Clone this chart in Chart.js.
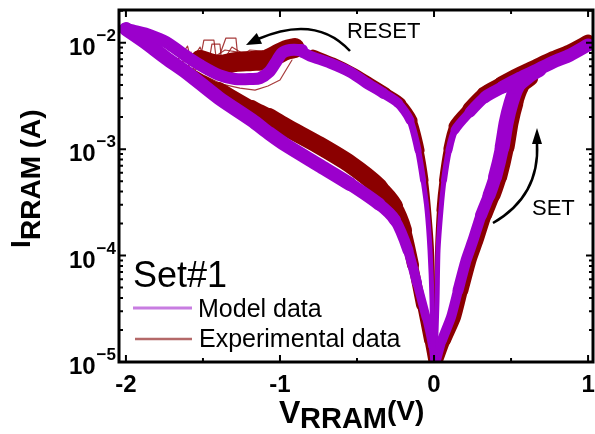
<!DOCTYPE html>
<html>
<head>
<meta charset="utf-8">
<script src="https://cdn.jsdelivr.net/npm/chart.js@4.4.1/dist/chart.umd.min.js"></script>
<style>
  html, body { margin: 0; padding: 0; background: #fff; }
  #wrap { width: 595px; height: 434px; }
</style>
</head>
<body>
<div id="wrap"><canvas id="iv" width="595" height="434"></canvas></div>
<script>
// values, each point is [V (volts), I (amps)]
const modelNegLrs = [[-0.0065, 1.0e-5], [-0.013, 3.8e-5], [-0.026, 1.12e-4], [-0.045, 2.67e-4], [-0.071, 5.11e-4], [-0.104, 9.78e-4], [-0.156, 1.87e-3], [-0.234, 2.71e-3], [-0.331, 3.36e-3], [-0.448, 4.27e-3], [-0.545, 5.30e-3], [-0.675, 6.44e-3], [-0.805, 7.50e-3], [-0.857, 8.17e-3]];
const modelReset = [[-0.857, 8.54e-3], [-0.935, 8.54e-3], [-0.987, 7.99e-3], [-1.026, 6.58e-3], [-1.071, 5.30e-3], [-1.130, 4.65e-3], [-1.182, 4.56e-3], [-1.292, 4.56e-3], [-1.396, 4.97e-3], [-1.519, 6.17e-3], [-1.610, 7.50e-3], [-1.740, 1.015e-2], [-1.844, 1.181e-2], [-1.942, 1.288e-2], [-2.0, 1.345e-2]];
const modelNegHrs = [[-2.0, 1.345e-2], [-1.877, 1.015e-2], [-1.740, 7.18e-3], [-1.610, 5.30e-3], [-1.396, 3.02e-3], [-1.182, 1.87e-3], [-1.071, 1.41e-3], [-0.961, 1.09e-3], [-0.747, 7.07e-4], [-0.545, 4.69e-4], [-0.357, 3.04e-4], [-0.253, 2.15e-4], [-0.169, 1.12e-4], [-0.110, 5.49e-5], [-0.052, 2.63e-5], [-0.013, 1.43e-5], [0.0, 1.0e-5]];
const modelPosLrs = [[0.0065, 1.0e-5], [0.0195, 3.8e-5], [0.026, 1.12e-4], [0.045, 2.67e-4], [0.065, 5.11e-4], [0.097, 9.78e-4], [0.136, 1.51e-3], [0.234, 2.23e-3], [0.331, 3.08e-3], [0.448, 3.83e-3], [0.558, 4.65e-3], [0.669, 5.53e-3], [0.773, 6.58e-3], [0.883, 7.66e-3], [1.0, 9.51e-3]];
const modelSet = [[0.013, 1.0e-5], [0.052, 1.60e-5], [0.110, 2.63e-5], [0.156, 4.72e-5], [0.208, 9.03e-5], [0.253, 1.39e-4], [0.305, 2.39e-4], [0.357, 3.69e-4], [0.396, 5.45e-4], [0.442, 1.04e-3], [0.468, 1.76e-3], [0.500, 2.71e-3], [0.539, 3.83e-3], [0.610, 4.76e-3], [0.688, 5.53e-3]];

const expNegHrs = [[-1.779, 8.54e-3], [-1.610, 5.53e-3], [-1.396, 3.67e-3], [-1.182, 2.43e-3], [-1.071, 2.0e-3], [-0.961, 1.61e-3], [-0.747, 1.09e-3], [-0.545, 7.23e-4], [-0.357, 4.39e-4], [-0.253, 2.91e-4], [-0.188, 1.73e-4], [-0.136, 8.1e-5], [-0.084, 3.41e-5], [-0.039, 1.60e-5], [-0.013, 1.0e-5]];
const expNegLrs = [[0.0, 1.0e-5], [-0.0065, 3.8e-5], [-0.013, 1.12e-4], [-0.032, 2.67e-4], [-0.052, 5.11e-4], [-0.084, 9.78e-4], [-0.136, 1.87e-3], [-0.214, 2.71e-3], [-0.312, 3.36e-3], [-0.429, 4.27e-3], [-0.526, 5.19e-3], [-0.656, 6.44e-3], [-0.786, 7.66e-3]];
const expReset = [[-1.519, 6.88e-3], [-1.396, 6.17e-3], [-1.292, 6.58e-3], [-1.182, 6.73e-3], [-1.097, 6.88e-3], [-1.026, 7.66e-3], [-0.961, 8.54e-3], [-0.903, 8.91e-3]];
const expResetNoiseA = [[-1.714, 7.34e-3], [-1.636, 6.58e-3], [-1.578, 8.17e-3], [-1.558, 5.30e-3], [-1.519, 6.88e-3], [-1.494, 1.060e-2], [-1.429, 1.060e-2], [-1.416, 7.50e-3], [-1.357, 8.54e-3], [-1.273, 8.17e-3], [-1.130, 8.0e-3], [-0.968, 8.54e-3]];
const expResetNoiseB = [[-1.682, 6.88e-3], [-1.597, 6.04e-3], [-1.519, 9.11e-3], [-1.468, 5.78e-3], [-1.442, 9.72e-3], [-1.390, 9.72e-3], [-1.377, 6.44e-3], [-1.312, 9.11e-3], [-1.227, 7.66e-3], [-1.065, 7.50e-3], [-0.922, 8.54e-3]];
const expResetNoiseC = [[-1.649, 6.44e-3], [-1.545, 7.18e-3], [-1.481, 5.07e-3], [-1.403, 6.88e-3], [-1.351, 1.107e-2], [-1.286, 1.107e-2], [-1.273, 7.18e-3], [-1.195, 8.54e-3], [-1.032, 8.17e-3]];
const expResetNoiseD = [[-1.487, 4.86e-3], [-1.377, 4.09e-3], [-1.260, 3.75e-3], [-1.162, 3.59e-3], [-1.078, 3.92e-3], [-1.0, 4.46e-3], [-0.922, 6.88e-3]];
const expResetNoiseE = [[-1.617, 5.78e-3], [-1.532, 6.58e-3], [-1.455, 7.83e-3], [-1.364, 5.53e-3], [-1.325, 7.66e-3], [-1.208, 6.88e-3], [-1.117, 6.30e-3], [-1.0, 6.88e-3]];
const expResetNoiseF = [[-1.740, 8.0e-3], [-1.660, 7.0e-3], [-1.600, 9.3e-3], [-1.570, 6.2e-3], [-1.500, 8.3e-3], [-1.420, 6.0e-3], [-1.340, 6.9e-3], [-1.250, 5.9e-3], [-1.150, 5.6e-3], [-1.050, 5.9e-3], [-0.960, 7.6e-3]];
const expPosLrs = [[0.013, 1.0e-5], [0.013, 3.8e-5], [0.0195, 1.12e-4], [0.032, 2.67e-4], [0.052, 5.11e-4], [0.084, 1.02e-3], [0.123, 1.65e-3], [0.221, 2.43e-3], [0.318, 3.36e-3], [0.435, 4.18e-3], [0.545, 5.07e-3], [0.656, 6.04e-3], [0.766, 7.18e-3], [0.877, 8.35e-3], [1.0, 1.037e-2]];
const expSet = [[0.026, 1.0e-5], [0.078, 1.60e-5], [0.143, 2.63e-5], [0.188, 4.72e-5], [0.240, 9.03e-5], [0.286, 1.39e-4], [0.338, 2.39e-4], [0.390, 3.69e-4], [0.429, 5.45e-4], [0.474, 1.04e-3], [0.500, 1.76e-3], [0.532, 2.71e-3], [0.571, 3.83e-3], [0.636, 4.56e-3], [0.660, 5.30e-3]];

// axis ticks
const xMajorTicks = [-2, -1, 0, 1];
const xMinorTicks = [-1.5, -0.5, 0.5];
const yDecades = [-2, -3, -4, -5];

// styling: stroke width per segment (the bands thin out near 0 V)
const wModelNegLrs = [5, 5, 5, 5, 6, 7, 9, 10, 11, 11, 11, 11, 11];
const wModelNegHrs = [14, 14, 14, 14, 14, 14, 14, 14, 14, 13, 12, 11, 10, 9, 8, 7];
const wModelPosLrs = [5, 5, 5, 5, 6, 7, 9, 11, 12, 13, 13, 13, 13, 13];
const wModelSet = [9, 10, 10, 11, 11, 11, 12, 13, 14, 15, 15, 15, 14, 13];
const wExpNegHrs = [6, 10, 14, 16, 18, 18, 18, 18, 16, 14, 12, 10, 8, 7];
const wExpNegLrs = [4, 4, 4, 4, 5, 7, 9, 10, 11, 11, 11, 11];
const wExpPosLrs = [4, 4, 4, 5, 6, 7, 9, 11, 12, 13, 13, 13, 13, 13];
const wExpSet = [9, 10, 10, 11, 11, 11, 12, 13, 14, 15, 15, 14, 12, 10];

const FONT = '"Liberation Sans", Arial, Helvetica, sans-serif';
const PURPLE = '#9b00cc';
const DARKRED = '#8b0000';
const NOISE = 'rgba(150,25,25,0.85)';

const pts = arr => arr.map(p => ({ x: p[0], y: p[1] }));

function curve(data, color, width, order, tension) {
    const tapered = Array.isArray(width);
    const ds = {
        data: pts(data),
        borderColor: color,
        borderWidth: tapered ? width[0] : width,
        pointRadius: 0,
        fill: false,
        tension: tension,
        order: order,
        borderCapStyle: 'round',
        borderJoinStyle: 'round',
        clip: 0
    };
    if (tapered) {
        ds.segment = { borderWidth: c => width[c.p0DataIndex] };
    }
    return ds;
}

const datasets = [
    // model (drawn on top)
    curve(modelNegLrs, PURPLE, wModelNegLrs, 1, 0.25),
    curve(modelReset, PURPLE, 12, 1, 0.3),
    curve(modelNegHrs, PURPLE, wModelNegHrs, 1, 0.25),
    curve(modelPosLrs, PURPLE, wModelPosLrs, 1, 0.25),
    curve(modelSet, PURPLE, wModelSet, 1, 0.2),
    // experimental (underneath)
    curve(expNegHrs, DARKRED, wExpNegHrs, 2, 0.25),
    curve(expNegLrs, DARKRED, wExpNegLrs, 2, 0.25),
    curve(expReset, DARKRED, 20, 2, 0.3),
    curve(expResetNoiseA, NOISE, 1.2, 2, 0),
    curve(expResetNoiseB, NOISE, 1.2, 2, 0),
    curve(expResetNoiseC, NOISE, 1.2, 2, 0),
    curve(expResetNoiseD, NOISE, 1.2, 2, 0),
    curve(expResetNoiseE, NOISE, 1.2, 2, 0),
    curve(expResetNoiseF, NOISE, 1.2, 2, 0),
    curve(expPosLrs, DARKRED, wExpPosLrs, 2, 0.25),
    curve(expSet, DARKRED, wExpSet, 2, 0.2)
];

function arrowHead(ctx, tipX, tipY, fromX, fromY, len, half) {
    const ang = Math.atan2(tipY - fromY, tipX - fromX);
    ctx.beginPath();
    ctx.moveTo(tipX, tipY);
    ctx.lineTo(tipX - len * Math.cos(ang) + half * Math.sin(ang), tipY - len * Math.sin(ang) - half * Math.cos(ang));
    ctx.lineTo(tipX - len * Math.cos(ang) - half * Math.sin(ang), tipY - len * Math.sin(ang) + half * Math.cos(ang));
    ctx.closePath();
    ctx.fill();
}

const decor = {
    id: 'decor',
    afterDraw(chart) {
        const { ctx, chartArea: a, scales } = chart;
        const xs = scales.x, ys = scales.y;
        ctx.save();
        ctx.strokeStyle = '#000';
        ctx.fillStyle = '#000';

        // inward ticks on all four sides
        ctx.lineWidth = 2;
        ctx.beginPath();
        xMajorTicks.forEach(v => {
            const p = xs.getPixelForValue(v);
            ctx.moveTo(p, a.bottom); ctx.lineTo(p, a.bottom - 7);
            ctx.moveTo(p, a.top); ctx.lineTo(p, a.top + 7);
        });
        xMinorTicks.forEach(v => {
            const p = xs.getPixelForValue(v);
            ctx.moveTo(p, a.bottom); ctx.lineTo(p, a.bottom - 4);
            ctx.moveTo(p, a.top); ctx.lineTo(p, a.top + 4);
        });
        for (let e = -5; e <= -2; e++) {
            for (let k = 1; k <= 9; k++) {
                const val = k * Math.pow(10, e);
                if (val < ys.min || val > ys.max) continue;
                const p = ys.getPixelForValue(val);
                const len = k === 1 ? 7 : 4;
                ctx.moveTo(a.left, p); ctx.lineTo(a.left + len, p);
                ctx.moveTo(a.right, p); ctx.lineTo(a.right - len, p);
            }
        }
        ctx.stroke();

        // frame
        ctx.lineWidth = 3;
        ctx.strokeRect(a.left, a.top, a.right - a.left, a.bottom - a.top);

        // y tick labels 10^n
        ctx.textBaseline = 'alphabetic';
        yDecades.forEach(e => {
            const p = ys.getPixelForValue(Math.pow(10, e));
            const sup = '\u2212' + Math.abs(e);
            ctx.font = 'bold 17px ' + FONT;
            const sw = ctx.measureText(sup).width;
            ctx.textAlign = 'left';
            ctx.fillText(sup, 116 - sw, p - 2);
            ctx.font = 'bold 24px ' + FONT;
            ctx.textAlign = 'right';
            ctx.fillText('10', 116 - sw - 1, p + 12);
        });

        // x tick labels
        ctx.font = 'bold 24px ' + FONT;
        ctx.textAlign = 'center';
        xMajorTicks.forEach(v => {
            ctx.fillText(String(v), xs.getPixelForValue(v), 392);
        });

        // x title V_RRAM(V)
        ctx.textAlign = 'left';
        ctx.font = 'bold 32px ' + FONT;
        ctx.fillText('V', 279, 423);
        ctx.font = 'bold 29px ' + FONT;
        ctx.fillText('RRAM', 300, 428);
        ctx.font = 'bold 28px ' + FONT;
        ctx.fillText('(V)', 387, 420);

        // y title I_RRAM (A)
        ctx.save();
        ctx.rotate(-Math.PI / 2);
        ctx.font = 'bold 28px ' + FONT;
        ctx.fillText('I', -248, 30);
        ctx.fillText('RRAM (A)', -240, 40);
        ctx.restore();

        // legend
        ctx.font = '36px ' + FONT;
        ctx.fillText('Set#1', 133, 287);
        ctx.lineWidth = 3;
        ctx.strokeStyle = 'rgb(200,125,225)';
        ctx.beginPath(); ctx.moveTo(133, 308); ctx.lineTo(192, 308); ctx.stroke();
        ctx.lineWidth = 2.5;
        ctx.strokeStyle = 'rgb(180,105,105)';
        ctx.beginPath(); ctx.moveTo(135, 339); ctx.lineTo(192, 339); ctx.stroke();
        ctx.font = '25px ' + FONT;
        ctx.fillText('Model data', 198, 317);
        ctx.fillText('Experimental data', 199, 347);

        // annotations
        ctx.font = '22px ' + FONT;
        ctx.fillText('RESET', 347, 38);
        ctx.fillText('SET', 532, 215);

        ctx.strokeStyle = '#000';
        ctx.lineWidth = 2.5;
        ctx.beginPath();
        ctx.moveTo(350, 51);
        ctx.quadraticCurveTo(316, 14, 258, 39);
        ctx.stroke();
        arrowHead(ctx, 246, 45, 262, 37, 15, 6);

        ctx.beginPath();
        ctx.moveTo(493, 223);
        ctx.quadraticCurveTo(540, 196, 537, 143);
        ctx.stroke();
        arrowHead(ctx, 537, 128, 537, 145, 16, 5);

        ctx.restore();
    }
};

new Chart(document.getElementById('iv'), {
    type: 'line',
    data: { datasets: datasets },
    options: {
        responsive: false,
        animation: false,
        devicePixelRatio: 1,
        layout: { padding: { left: 119, top: 10, right: 2, bottom: 72 } },
        plugins: { legend: { display: false }, tooltip: { enabled: false } },
        scales: {
            x: { type: 'linear', min: -2.045, max: 1.032, display: false },
            y: { type: 'logarithmic', min: 1e-5, max: 2.03e-2, display: false }
        }
    },
    plugins: [decor]
});
</script>
</body>
</html>
